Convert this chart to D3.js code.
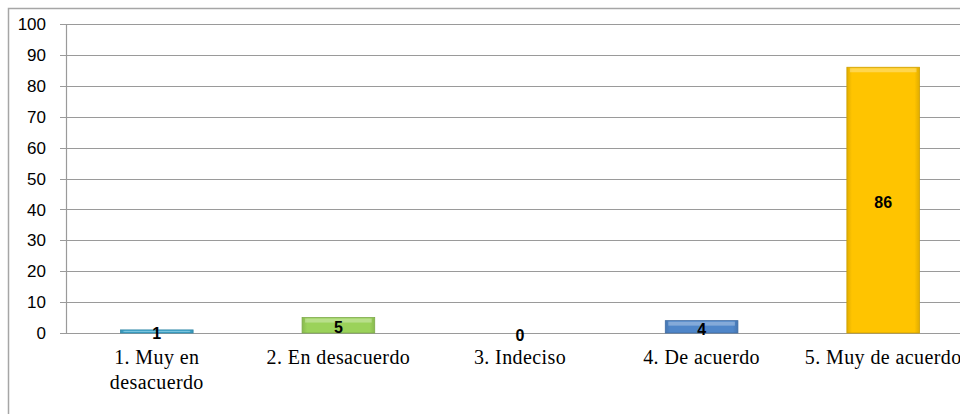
<!DOCTYPE html>
<html>
<head>
<meta charset="utf-8">
<script src="https://cdn.jsdelivr.net/npm/d3@7"></script>
<style>
  html, body { margin: 0; padding: 0; background: #fff; overflow: hidden; }
</style>
</head>
<body>
<div id="chart"></div>
<script>
// Data
const categories = ['1. Muy en desacuerdo', '2. En desacuerdo', '3. Indeciso', '4. De acuerdo', '5. Muy de acuerdo'];
const categoryLines = [['1. Muy en', 'desacuerdo'], ['2. En desacuerdo'], ['3. Indeciso'], ['4. De acuerdo'], ['5. Muy de acuerdo']];
const values = [1, 5, 0, 4, 86];
const barColors = ['#3fa9cf', '#9bd25a', '#9bbb59', '#4f86c9', '#ffc400'];
const yTicks = [0, 10, 20, 30, 40, 50, 60, 70, 80, 90, 100];

const width = 960;
const height = 414;
const margin = { top: 24, right: -14, bottom: 81, left: 66 };

const svg = d3.select('#chart')
    .append('svg')
    .attr('width', width)
    .attr('height', height);

// outer chart frame (cropped on right and bottom)
svg.append('rect')
    .attr('x', 8.5).attr('y', 8.5)
    .attr('width', width + 20).attr('height', height + 20)
    .attr('fill', '#fff')
    .attr('stroke', '#a6a6a6')
    .attr('stroke-width', 1.5);

const x = d3.scaleBand()
    .domain(categories)
    .range([margin.left, width - margin.right])
    .paddingInner(0.6)
    .paddingOuter(0.3);

const y = d3.scaleLinear()
    .domain([0, 100])
    .range([height - margin.bottom, margin.top]);

// gridlines
svg.append('g')
    .selectAll('line')
    .data(yTicks)
    .join('line')
    .attr('x1', margin.left - 6)
    .attr('x2', width)
    .attr('y1', d => Math.round(y(d)) + 0.5)
    .attr('y2', d => Math.round(y(d)) + 0.5)
    .attr('stroke', '#9a9a9a')
    .attr('stroke-width', 1.2);

// y axis line
svg.append('line')
    .attr('x1', margin.left + 0.5)
    .attr('x2', margin.left + 0.5)
    .attr('y1', y(100))
    .attr('y2', y(0))
    .attr('stroke', '#9a9a9a')
    .attr('stroke-width', 1.2);

// y tick labels
svg.append('g')
    .selectAll('text')
    .data(yTicks)
    .join('text')
    .attr('x', 46)
    .attr('y', d => y(d))
    .attr('dy', '0.36em')
    .attr('text-anchor', 'end')
    .attr('font-family', 'Liberation Sans, Arial, sans-serif')
    .attr('font-size', '17px')
    .attr('fill', '#000')
    .text(d => d);

// bevel-ish gradients
const defs = svg.append('defs');
barColors.forEach((c, i) => {
    const g = defs.append('linearGradient')
        .attr('id', 'bar-grad-' + i)
        .attr('x1', 0).attr('y1', 0).attr('x2', 1).attr('y2', 0);
    const base = d3.color(c);
    g.append('stop').attr('offset', '0%').attr('stop-color', base.darker(0.35));
    g.append('stop').attr('offset', '7%').attr('stop-color', base);
    g.append('stop').attr('offset', '93%').attr('stop-color', base);
    g.append('stop').attr('offset', '100%').attr('stop-color', base.darker(0.35));
});

const bars = svg.append('g');
bars.selectAll('rect.bar')
    .data(values)
    .join('rect')
    .attr('class', 'bar')
    .attr('x', (d, i) => x(categories[i]))
    .attr('width', x.bandwidth())
    .attr('y', d => y(d))
    .attr('height', d => y(0) - y(d))
    .attr('fill', (d, i) => `url(#bar-grad-${i})`)
    .attr('stroke', (d, i) => d3.color(barColors[i]).darker(0.6))
    .attr('stroke-width', 0.8);

// top highlight
bars.selectAll('rect.hl')
    .data(values)
    .join('rect')
    .attr('class', 'hl')
    .attr('x', (d, i) => x(categories[i]) + 3)
    .attr('width', x.bandwidth() - 6)
    .attr('y', d => y(d) + 1)
    .attr('height', d => Math.min(4, Math.max(0, y(0) - y(d) - 2)))
    .attr('fill', '#fff')
    .attr('opacity', 0.3);

// value labels (centered in bar)
svg.append('g')
    .selectAll('text')
    .data(values)
    .join('text')
    .attr('x', (d, i) => x(categories[i]) + x.bandwidth() / 2)
    .attr('y', d => (y(d) + y(0)) / 2 + 2)
    .attr('dy', '0.36em')
    .attr('text-anchor', 'middle')
    .attr('font-family', 'Liberation Sans, Arial, sans-serif')
    .attr('font-weight', 'bold')
    .attr('font-size', '16px')
    .attr('fill', '#000')
    .text(d => d);

// category labels
const catG = svg.append('g');
categoryLines.forEach((lines, i) => {
    const t = catG.append('text')
        .attr('x', x(categories[i]) + x.bandwidth() / 2)
        .attr('y', 364)
        .attr('text-anchor', 'middle')
        .attr('font-family', 'Liberation Serif, Times New Roman, serif')
        .attr('font-size', '20px')
        .attr('letter-spacing', '0.4px')
        .attr('fill', '#000');
    lines.forEach((ln, j) => {
        t.append('tspan')
            .attr('x', x(categories[i]) + x.bandwidth() / 2)
            .attr('dy', j === 0 ? 0 : 25)
            .text(ln);
    });
});
</script>
</body>
</html>
